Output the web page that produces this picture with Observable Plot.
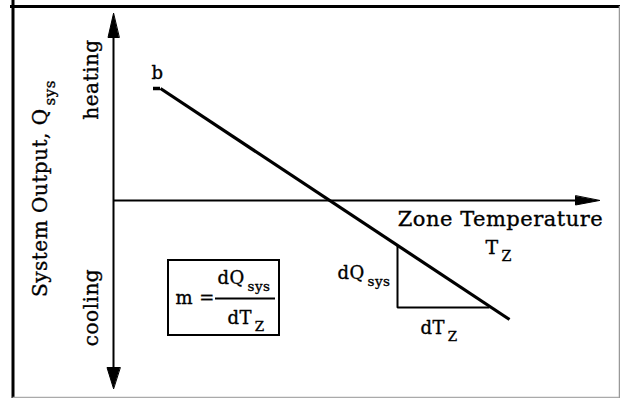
<!DOCTYPE html>
<html>
<head>
<meta charset="utf-8">
<script src="https://cdn.jsdelivr.net/npm/d3@7"></script>
<script src="https://cdn.jsdelivr.net/npm/@observablehq/plot@0.6"></script>
<style>
  html, body { margin: 0; padding: 0; background: #fff; }
</style>
</head>
<body>
<div id="chart"></div>
<script>
// Diagram units: T = zone temperature, Q = system output, origin at the axes' crossing.
const zoneTempAxis = [0, 486];          // T axis: origin -> arrow tip
const outputAxis = [-188, 187];         // Q axis: cooling tip -> heating tip
const responseT = [47, 396];            // operating line, from point b to lower end
const responseQ = [112, -119];
const bTickT = [40, 47];                // short flat at point b
const dQLegT = 284;                     // T of the dQ_sys leg of the slope triangle
const dTLegQ = -107;                    // Q of the dT_Z leg
const boxT = [55, 166];                 // slope definition box
const boxQ = [-60, -135];
const fractionT = [102, 162];
const fractionQ = -98;
const frameT = [-100.5, 506];
const frameQ = [194, -197];

const labelText = ["b", "Zone Temperature", "T_Z", "dQ_sys", "dT_Z", "m =", "dQ_sys", "dT_Z"];
const labelT = [44, 387, 372, 277, 307, 62, 104, 114];
const labelQ = [122, -25, -53, -78, -133, -103, -83, -123];
const labelAnchor = ["middle", "middle", "start", "end", "start", "start", "start", "start"];
const labelSize = [18, 21, 19, 18, 18, 18, 18, 18];

const axisLabelText = ["System Output, Q_sys", "heating", "cooling"];
const axisLabelT = [-67, -16, -16];
const axisLabelQ = [12, 121, -107];

// --- derived geometry ---
const slope = (responseQ[1] - responseQ[0]) / (responseT[1] - responseT[0]);
const qAt = t => responseQ[0] + (t - responseT[0]) * slope;
const tAt = q => responseT[0] + (q - responseQ[0]) / slope;

const headLen = 24, headHalf = 5.5;
const heads = [
  {id: "up", T: 0, Q: outputAxis[1]}, {id: "up", T: -headHalf, Q: outputAxis[1] - headLen}, {id: "up", T: headHalf, Q: outputAxis[1] - headLen},
  {id: "down", T: 0, Q: outputAxis[0]}, {id: "down", T: -headHalf - 1, Q: outputAxis[0] + headLen - 3}, {id: "down", T: headHalf + 1, Q: outputAxis[0] + headLen - 3},
  {id: "right", T: zoneTempAxis[1], Q: 0}, {id: "right", T: zoneTempAxis[1] - headLen, Q: -headHalf + 1}, {id: "right", T: zoneTempAxis[1] - headLen, Q: headHalf - 1}
];

const response = responseT.map((t, i) => ({T: t, Q: responseQ[i]}));
const triangle = [
  {T: dQLegT, Q: qAt(dQLegT)},
  {T: dQLegT, Q: dTLegQ},
  {T: tAt(dTLegQ) - 2, Q: dTLegQ}
];
const labels = labelText.map((s, i) => ({s, T: labelT[i], Q: labelQ[i], a: labelAnchor[i], f: labelSize[i]}));
const axisLabels = axisLabelText.map((s, i) => ({s, T: axisLabelT[i], Q: axisLabelQ[i]}));

const font = "DejaVu Serif";

const textMarks = labels.map(d =>
  Plot.text([d], {x: "T", y: "Q", text: "s", textAnchor: d.a, lineAnchor: "bottom",
    fontSize: d.f, fontFamily: font, fill: "black", stroke: "black", strokeWidth: 0.35})
);

const chart = Plot.plot({
  width: 620,
  height: 398,
  margin: 0,
  x: {domain: [-113, 507], axis: null},
  y: {domain: [-198, 200], axis: null},
  style: {background: "white", letterSpacing: "0.5px", fontFamily: font},
  marks: [
    // frame
    Plot.ruleX([frameT[0]], {stroke: "black", strokeWidth: 3}),
    Plot.ruleY([frameQ[0]], {x1: -103, x2: 507, stroke: "black", strokeWidth: 3}),
    Plot.ruleX([frameT[1]], {y1: frameQ[0], y2: -198, stroke: "#999", strokeWidth: 1.5}),
    Plot.ruleY([frameQ[1]], {x1: frameT[0], x2: frameT[1], stroke: "#aaa", strokeWidth: 1.5}),
    // axes
    Plot.ruleX([0], {y1: outputAxis[0] + 10, y2: outputAxis[1] - 10, stroke: "black", strokeWidth: 2}),
    Plot.ruleY([0], {x1: 0, x2: zoneTempAxis[1] - 10, stroke: "black", strokeWidth: 2}),
    Plot.line(heads, {x: "T", y: "Q", z: "id", fill: "black", stroke: "black", strokeWidth: 1, curve: "linear-closed"}),
    // operating line
    Plot.line(response, {x: "T", y: "Q", stroke: "black", strokeWidth: 3.2, strokeLinecap: "butt"}),
    Plot.ruleY([responseQ[0]], {x1: bTickT[0], x2: bTickT[1], stroke: "black", strokeWidth: 3.5}),
    // slope triangle
    Plot.line(triangle, {x: "T", y: "Q", stroke: "black", strokeWidth: 2, strokeLinecap: "butt", strokeLinejoin: "miter"}),
    // slope box
    Plot.rect([{}], {x1: boxT[0], x2: boxT[1], y1: boxQ[0], y2: boxQ[1], fill: "none", stroke: "black", strokeWidth: 2}),
    Plot.ruleY([fractionQ], {x1: fractionT[0], x2: fractionT[1], stroke: "black", strokeWidth: 2}),
    ...textMarks,
    Plot.text(axisLabels, {x: "T", y: "Q", text: "s", rotate: -90, textAnchor: "middle", lineAnchor: "bottom",
      fontSize: 20, fontFamily: font, fill: "black", stroke: "black", strokeWidth: 0.35})
  ]
});

// turn "X_sub" into X with a subscript
const ns = "http://www.w3.org/2000/svg";
chart.querySelectorAll("text").forEach(t => {
  const s = t.textContent;
  const i = s.indexOf("_");
  if (i < 0) return;
  t.textContent = s.slice(0, i);
  const sub = document.createElementNS(ns, "tspan");
  sub.setAttribute("font-size", "0.75em");
  sub.setAttribute("dx", "0.2em");
  sub.setAttribute("dy", "0.55em");
  sub.textContent = s.slice(i + 1);
  t.appendChild(sub);
});

document.getElementById("chart").appendChild(chart);
</script>
</body>
</html>
